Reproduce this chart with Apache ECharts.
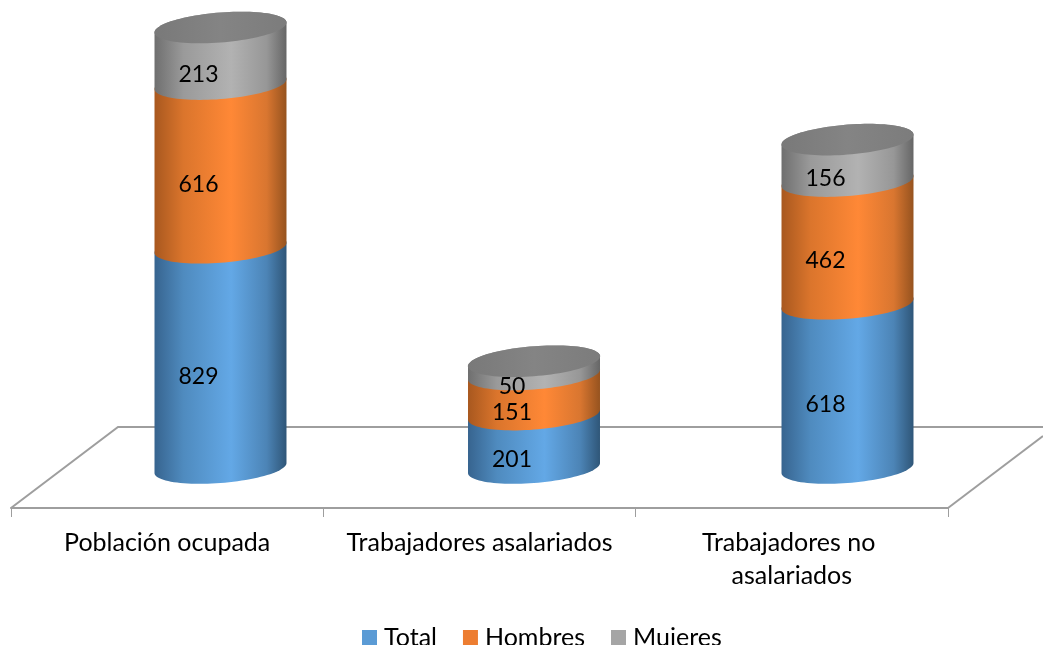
<!DOCTYPE html>
<html><head><meta charset="utf-8">
<style>html,body{margin:0;padding:0;background:#fff;overflow:hidden}#c{width:1043px;height:645px}</style>
<script src="https://cdn.jsdelivr.net/npm/echarts@6/dist/echarts.min.js"></script>
</head><body><div id="c"></div>
<script>
const categories = ['Población ocupada', 'Trabajadores asalariados', 'Trabajadores no asalariados'];
const total = [829, 201, 618];
const hombres = [616, 151, 462];
const mujeres = [213, 50, 156];
const stackMax = 1658;

const FONT = 'Lato, "Open Sans", sans-serif';
const shades = {
  Total: ['#37648F', '#4F8BBF', '#63A8E6', '#4C84B6', '#2F5678'],
  Hombres: ['#A8581F', '#DB752C', '#FF8836', '#D97630', '#96531F'],
  Mujeres: ['#6F6F6F', '#9A9A9A', '#B2B2B2', '#979797', '#666666']
};
const stack = [['Total', total], ['Hombres', hombres], ['Mujeres', mujeres]];
const legendColor = { Total: '#5B9BD5', Hombres: '#ED7D31', Mujeres: '#A5A5A5' };

function grad(name) {
  const s = shades[name];
  return new echarts.graphic.LinearGradient(0, 0, 1, 0, [
    { offset: 0, color: s[0] }, { offset: 0.22, color: s[1] },
    { offset: 0.58, color: s[2] }, { offset: 0.85, color: s[3] }, { offset: 1, color: s[4] }
  ]);
}

function renderer(level) {
  return function (params, api) {
    const name = stack[level][0];
    const cat = api.value(0);
    let base = 0;
    for (let i = 0; i < level; i++) base += stack[i][1][cat];
    const val = stack[level][1][cat];
    const p0 = api.coord([cat, base]);
    const p1 = api.coord([cat, base + val]);
    const band = api.size([1, 0])[0];
    const R = band * 0.421 / 2;
    const shear = 5, ry = 15;
    const pt = (cy, t) => [p0[0] + R * Math.cos(t), cy - shear * Math.cos(t) + ry * Math.sin(t)];
    const pts = [];
    for (let i = 0; i <= 48; i++) pts.push(pt(p0[1], Math.PI * i / 48));
    for (let i = 0; i <= 48; i++) pts.push(pt(p1[1], Math.PI + Math.PI * i / 48));
    const children = [{ type: 'polygon', shape: { points: pts }, style: { fill: grad(name) } }];
    if (level === stack.length - 1) {
      const cap = [];
      for (let i = 0; i < 96; i++) cap.push(pt(p1[1], 2 * Math.PI * i / 96));
      children.push({
        type: 'polygon', shape: { points: cap },
        style: {
          fill: new echarts.graphic.LinearGradient(0, 0, 1, 0, [
            { offset: 0, color: '#797979' }, { offset: 0.5, color: '#848484' }, { offset: 1, color: '#7C7C7C' }
          ])
        }
      });
    }
    children.push({
      type: 'text', z2: 20,
      style: {
        text: String(val), x: p0[0] - 22, y: (p0[1] + p1[1]) / 2 + 18.5,
        align: 'center', verticalAlign: 'middle',
        font: '23px ' + FONT, fill: '#000'
      }
    });
    return { type: 'group', children };
  };
}

const chart = echarts.init(document.getElementById('c'), null, { renderer: 'canvas' });
chart.setOption({
  animation: false,
  backgroundColor: '#fff',
  textStyle: { fontFamily: FONT },
  graphic: [
    { type: 'polyline', z: 0, shape: { points: [[11, 508], [118, 427], [1043, 427]] }, style: { stroke: '#9E9E9E', lineWidth: 2, fill: null } },
    { type: 'polyline', z: 0, shape: { points: [[948, 508], [1043, 436]] }, style: { stroke: '#9E9E9E', lineWidth: 2, fill: null } }
  ],
  legend: {
    left: 357, top: 620, itemWidth: 15, itemHeight: 15, itemGap: 26,
    icon: 'rect',
    textStyle: { fontSize: 25, fontFamily: FONT, color: '#000', padding: [0, 0, 0, 2] },
    data: stack.map(s => s[0])
  },
  grid: [
    { left: 11, right: 95, top: 427, bottom: 137 },
    { left: 63.75, right: 38.75, top: 27.5, bottom: 177 }
  ],
  xAxis: [
    {
      gridIndex: 0, type: 'category', data: categories,
      axisLine: { show: true, lineStyle: { color: '#9E9E9E', width: 2 } },
      axisTick: { show: true, length: 9, alignWithLabel: false, lineStyle: { color: '#9E9E9E', width: 1 } },
      axisLabel: { interval: 0, fontSize: 25, fontFamily: FONT, color: '#000', margin: 18, width: 290, overflow: 'break', lineHeight: 33 }
    },
    { gridIndex: 1, type: 'category', data: categories, show: false }
  ],
  yAxis: [
    { gridIndex: 0, type: 'value', show: false },
    { gridIndex: 1, type: 'value', show: false, min: 0, max: stackMax }
  ],
  series: stack.map((s, i) => ({
    type: 'custom', name: s[0], xAxisIndex: 1, yAxisIndex: 1,
    coordinateSystem: 'cartesian2d', clip: false,
    itemStyle: { color: legendColor[s[0]] },
    encode: { x: 0, y: 1 },
    renderItem: renderer(i),
    data: s[1].map((v, k) => [k, v])
  }))
});
</script></body></html>
